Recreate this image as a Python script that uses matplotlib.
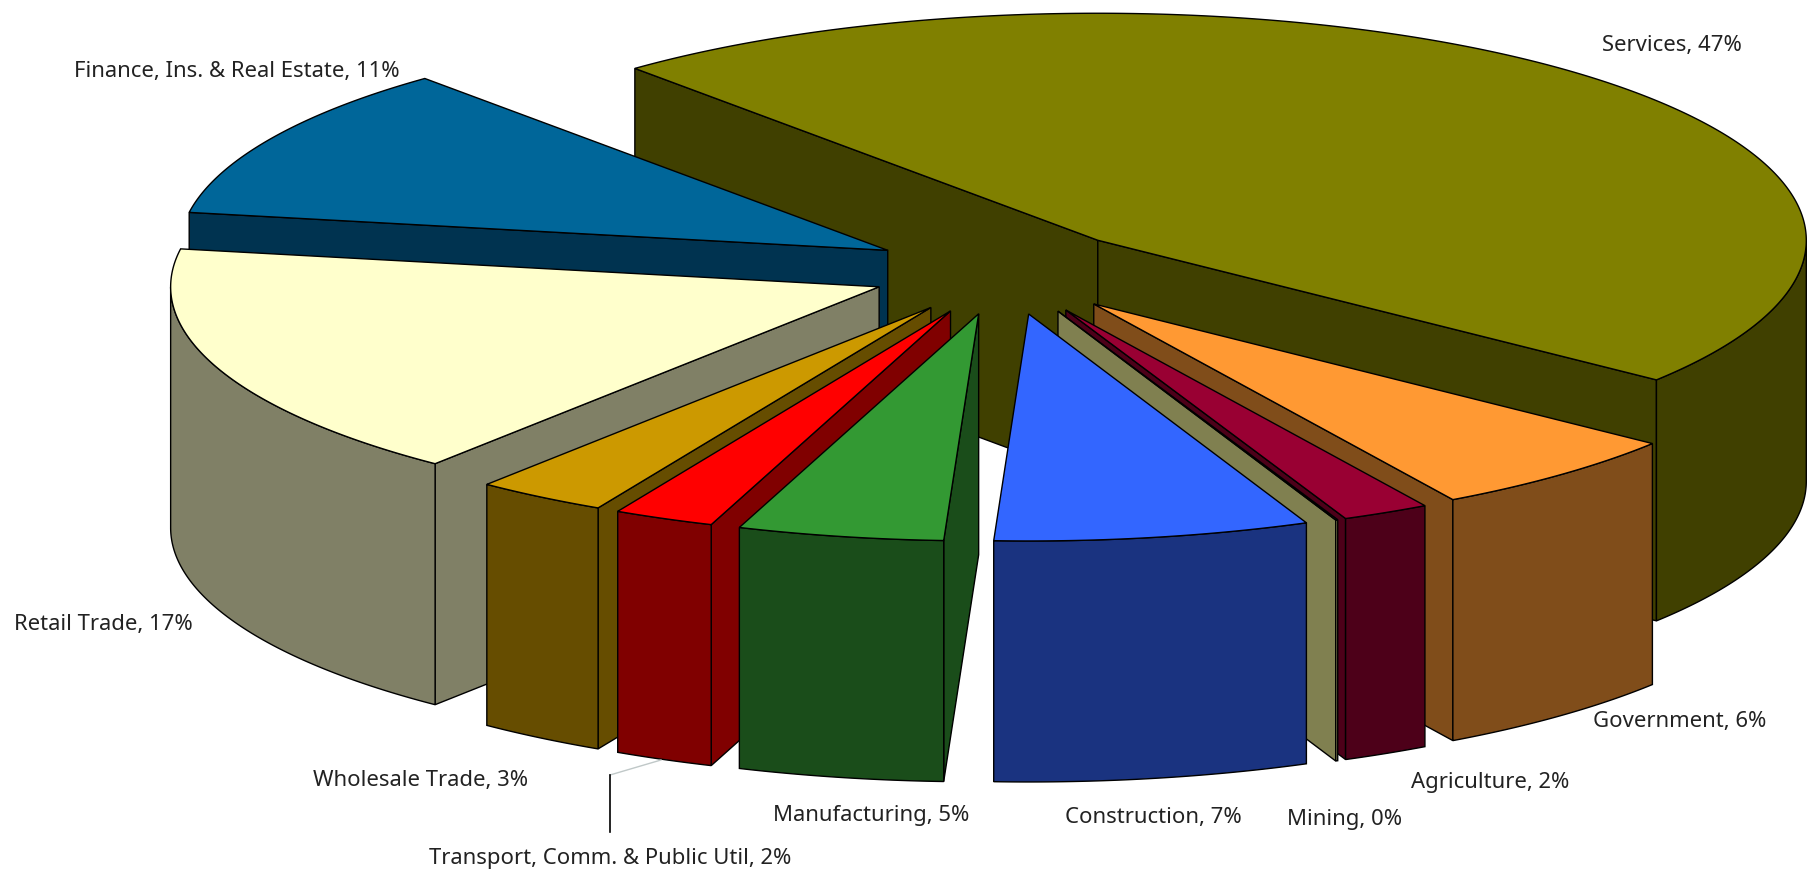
import numpy as np
import matplotlib
matplotlib.use("Agg")
import matplotlib.pyplot as plt

# values, clockwise from Services
sectors = ["Services", "Government", "Agriculture", "Mining", "Construction",
           "Manufacturing", "Transport, Comm. & Public Util", "Wholesale Trade",
           "Retail Trade", "Finance, Ins. & Real Estate"]
shares = [46.9, 6, 2, 0.05, 7.2, 4.7, 2.3, 3, 16.9, 11]
shown_pct = [47, 6, 2, 0, 7, 5, 2, 3, 17, 11]

top_colors = ["#808000", "#FF9933", "#990033", "#8C8C52", "#3366FF",
              "#339933", "#FF0000", "#CC9900", "#FFFFCC", "#006699"]
wall_colors = ["#404000", "#804D1A", "#4D0019", "#808050", "#1A3380",
               "#1A4D1A", "#800000", "#664D00", "#808066", "#003350"]

# label anchors (left edge, middle), in pixels
label_x = [1602, 1593, 1411, 1287, 1065, 773, 429, 313, 14, 74]
label_y = [45, 721, 782, 819, 817, 815, 858, 780, 624, 72]

# pie geometry in pixels
cx, cy = 1005, 271.5
rx, ry = 708.5, 227
depth = 241
explode = 0.19
start_angle = 130.8

# order in which the slices are painted, back to front
paint_order = [0, 9, 8, 1, 2, 3, 4, 7, 6, 5]

angles = start_angle - np.cumsum([0] + shares) / sum(shares) * 360


def to_px(apex, t):
    return apex[0] + rx * np.cos(np.radians(t)), apex[1] - ry * np.sin(np.radians(t))


def radial_wall(ax, apex, t, color):
    x, y = to_px(apex, t)
    ax.fill([apex[0], x, x, apex[0]], [apex[1], y, y + depth, apex[1] + depth],
            facecolor=color, edgecolor="black", linewidth=1)


fig = plt.figure(figsize=(18.18, 8.72), dpi=100)
ax = fig.add_axes([0, 0, 1, 1])
ax.set_xlim(0, 1818)
ax.set_ylim(872, 0)
ax.axis("off")

for i in paint_order:
    t0, t1 = angles[i], angles[i + 1]
    mid = np.radians((t0 + t1) / 2)
    apex = (cx + explode * rx * np.cos(mid), cy - explode * ry * np.sin(mid))

    # only the walls that face the viewer
    if np.cos(np.radians(t0)) < 0:
        radial_wall(ax, apex, t0, wall_colors[i])
    if np.cos(np.radians(t1)) > 0:
        radial_wall(ax, apex, t1, wall_colors[i])

    ts = np.linspace(t0, t1, 600)
    front = ts[np.sin(np.radians(ts)) <= 0]
    if len(front) > 1:
        xs, ys = to_px(apex, front)
        ax.fill(np.r_[xs, xs[::-1]], np.r_[ys, ys[::-1] + depth],
                facecolor=wall_colors[i], edgecolor="black", linewidth=1)

    xs, ys = to_px(apex, ts)
    ax.fill(np.r_[apex[0], xs], np.r_[apex[1], ys],
            facecolor=top_colors[i], edgecolor="black", linewidth=1)

# leader for the Transport label
ax.plot([661, 610], [760, 775], color="#c0c8c8", linewidth=1)
ax.plot([610, 610], [775, 832], color="black", linewidth=1.2)

for name, pct, x, y in zip(sectors, shown_pct, label_x, label_y):
    ax.text(x, y, f"{name}, {pct}%", ha="left", va="center",
            fontsize=15.9, family="Noto Sans", color="#222222")

fig.savefig("out.png", dpi=100)
